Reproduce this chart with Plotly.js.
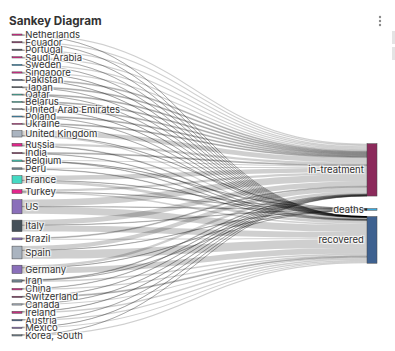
<!DOCTYPE html>
<html>
<head>
<meta charset="utf-8">
<script src="https://cdn.plot.ly/plotly-3.0.1.min.js"></script>
<style>html,body{margin:0;padding:0;background:#fff;}#chart{width:395px;height:351px;}</style>
</head>
<body>
<div id="chart"></div>
<script>
// Source countries (left column), in the order shown
const countries = ["Netherlands","Ecuador","Portugal","Saudi Arabia","Sweden","Singapore","Pakistan","Japan","Qatar","Belarus","United Arab Emirates","Poland","Ukraine","United Kingdom","Russia","India","Belgium","Peru","France","Turkey","US","Italy","Brazil","Spain","Germany","Iran","China","Switzerland","Canada","Ireland","Austria","Mexico","Korea, South"];
// Target categories (right column)
const outcomes = ["in-treatment","deaths","recovered"];
// Estimated flows per country (relative units read from band widths)
const inTreatment = [99,98,97,96,95,94,74,73.5,73,72.5,72,71.5,71,385,169,75,85,82,358,177,525,384,66,320,200,51,30,22,20,25,14,11,7];
const deaths      = [0,0,0,0,0,0,0,0,0,0,0,0,0,15,0,0,4,0,20,3,25,30,0,20,8,3,0,0,0,0,0,0,0];
const recovered   = [1,2,3,4,5,6,6,6.5,7,7.5,8,8.5,9,100,51,25,31,38,222,120,550,486,84,660,442,126,90,78,80,125,86,89,93];

// Styles
const countryColors = ["#e3268c","#8e2d66","#434c57","#e3268c","#3aa9de","#e3268c","#3e5f8d","#4a525d","#41d4bd","#41d4bd","#a9b3c0","#3aa9de","#e3268c","#aab4c0","#e3268c","#8e2d60","#41d4bd","#6f808c","#45d9c3","#e3268c","#8a6fba","#465059","#8a6fba","#aab4c0","#8a6fba","#71838f","#e3268c","#8e2d60","#aab4c0","#c4307e","#3e5f8d","#8a6fba","#6f808c"];
const outcomeColors = ["#8c2a5b","#3aa9de","#3e6190"];

const labels = countries.concat(outcomes);
const nodeColors = countryColors.concat(outcomeColors);
const src = [], tgt = [], val = [];
const flows = [inTreatment, deaths, recovered];
countries.forEach((c, i) => {
  flows.forEach((arr, k) => {
    if (arr[i] > 0) { src.push(i); tgt.push(countries.length + k); val.push(arr[i]); }
  });
});

const W = 395, H = 351;
const M = {l: 12, r: 18, t: 34, b: 15};
const px = x => (x - M.l) / (W - M.l - M.r);
const py = y => 1 - (y - M.t) / (H - M.t - M.b);

const FONT = 'Inter, "Noto Sans", sans-serif';
const data = [{
  type: 'sankey',
  orientation: 'h',
  arrangement: 'snap',
  node: {
    label: labels,
    color: nodeColors,
    pad: 7,
    thickness: 10,
    line: {color: '#444', width: 0.5}
  },
  link: {
    source: src,
    target: tgt,
    value: val,
    color: 'rgba(0,0,0,0.19)'
  },
  textfont: {family: FONT, size: 9.5, color: '#333'}
}];

const dots = [17, 21, 25].map(y => ({
  type: 'circle', xref: 'paper', yref: 'paper',
  x0: px(378.8), x1: px(381.2), y0: py(y - 1.2), y1: py(y + 1.2),
  fillcolor: '#8a8a8a', line: {width: 0}
}));
const bars = [[31, 44], [47, 60]].map(([a, b]) => ({
  type: 'rect', xref: 'paper', yref: 'paper',
  x0: px(392), x1: px(395), y0: py(b), y1: py(a),
  fillcolor: '#e4e4e4', line: {width: 0}
}));

const layout = {
  width: W, height: H,
  margin: M,
  paper_bgcolor: '#fff',
  font: {family: FONT, size: 10, color: '#333'},
  title: {
    text: '<b>Sankey Diagram</b>',
    font: {family: FONT, size: 11.7, color: '#333'},
    xref: 'container', yref: 'container',
    x: 9 / W, xanchor: 'left',
    y: 1 - 21 / H, yanchor: 'middle'
  },
  shapes: dots.concat(bars)
};

Plotly.newPlot('chart', data, layout, {displayModeBar: false, staticPlot: true});
</script>
</body>
</html>
